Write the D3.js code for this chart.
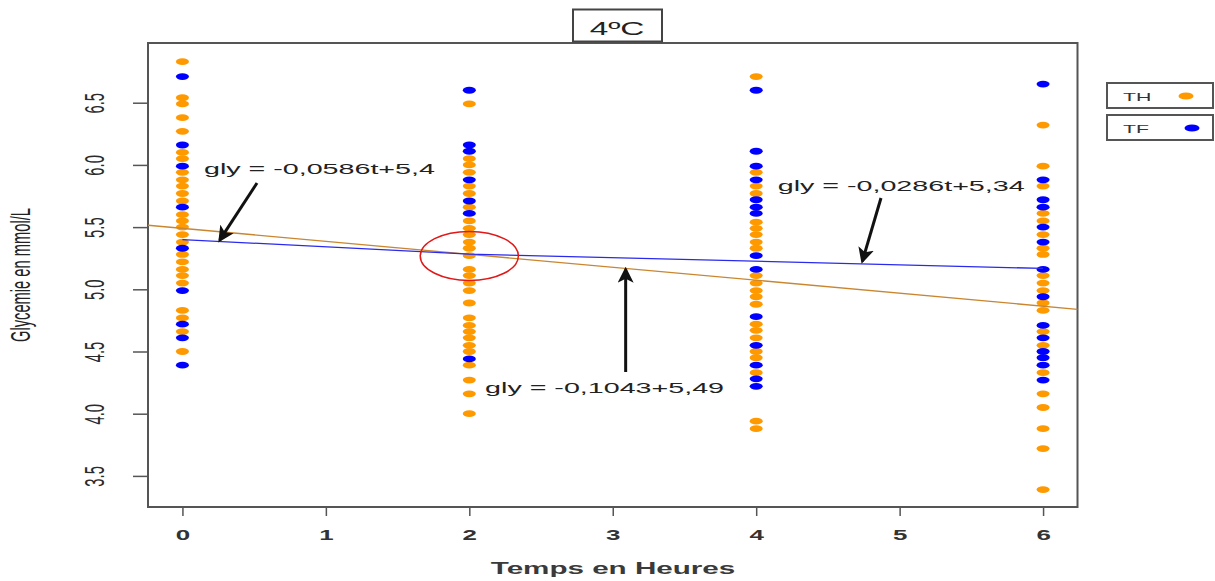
<!DOCTYPE html>
<html><head><meta charset="utf-8">
<script src="https://cdn.jsdelivr.net/npm/d3@7"></script>
<style>body{margin:0;background:#fff}svg{display:block}</style>
</head><body>
<svg id="c" width="1215" height="581"></svg>
<script>
// ---------- data ----------
const times = [0, 2, 4, 6];
const seriesNames = ["TH", "TF"];
// TH (orange) glycemia values per time point
const thT0 = [6.83,6.54,6.49,6.38,6.27,6.10,6.05,5.94,5.88,5.83,5.77,5.71,5.60,5.55,5.50,5.44,5.38,5.28,5.22,5.16,5.11,5.05,4.83,4.77,4.66,4.50];
const thT2 = [6.49,6.05,6.00,5.94,5.83,5.77,5.66,5.55,5.49,5.44,5.38,5.33,5.27,5.16,5.11,5.05,4.99,4.89,4.77,4.71,4.66,4.61,4.55,4.50,4.39,4.27,4.16,4.00];
const thT4 = [6.71,5.94,5.83,5.77,5.54,5.49,5.44,5.38,5.33,5.11,5.05,4.99,4.94,4.88,4.72,4.67,4.61,4.50,4.45,4.33,3.94,3.88];
const thT6 = [6.32,5.99,5.83,5.61,5.55,5.44,5.33,5.28,5.11,5.05,4.99,4.89,4.83,4.66,4.55,4.33,4.16,4.05,3.88,3.72,3.39];
// TF (blue)
const tfT0 = [6.71,6.16,5.99,5.66,5.33,4.99,4.72,4.61,4.39];
const tfT2 = [6.60,6.16,6.11,5.88,5.71,5.61,4.44];
const tfT4 = [6.60,6.11,5.99,5.88,5.72,5.66,5.61,5.27,5.16,4.78,4.55,4.39,4.28,4.22];
const tfT6 = [6.65,5.88,5.72,5.66,5.50,5.38,5.16,4.94,4.71,4.61,4.50,4.45,4.39,4.27];
// regression lines
const thFitIntercept = 5.49, thFitSlope = -0.1043;
const tfFitTimes = [0, 2, 6];
const tfFitValues = [5.4, 5.283, 5.168];
// axis ticks
const xTicks = [0,1,2,3,4,5,6];
const yTicks = [3.5,4.0,4.5,5.0,5.5,6.0,6.5];
// texts
const titleText = "4ºC";
const xLabel = "Temps en Heures";
const yLabel = "Glycemie en mmol/L";
const eqTexts = ["gly = -0,0586t+5,4", "gly = -0,0286t+5,34", "gly = -0,1043+5,49"];

// ---------- layout ----------
const SX = 1.85; // horizontal stretch of the original picture
const colTH = "#ff9900", colTF = "#0000ff";
const svg = d3.select("#c");
const x = d3.scaleLinear().domain([-0.24, 6.24]).range([148, 1077.5]);
const y = d3.scaleLinear().domain([3.25, 6.98]).range([507, 43]);

function stretchText(g, px, py, str, o) {
  return g.append("text")
    .attr("transform", `translate(${px},${py}) scale(${SX},1)`)
    .attr("text-anchor", o.anchor || "start")
    .attr("font-family", "Liberation Sans, Arial, sans-serif")
    .attr("font-size", o.size)
    .attr("font-weight", o.weight || "normal")
    .attr("fill", o.fill || "#222")
    .text(str);
}

// plot box
svg.append("rect").attr("x", 148).attr("y", 43).attr("width", 929.5).attr("height", 464)
  .attr("fill", "none").attr("stroke", "#555").attr("stroke-width", 2);

// y axis
const ya = svg.append("g").attr("transform", "translate(148,0)")
  .call(d3.axisLeft(y).tickValues(yTicks).tickSize(15).tickFormat(d3.format(".1f")));
ya.select(".domain").remove();
ya.selectAll(".tick line").attr("stroke", "#555").attr("stroke-width", 1.5);
ya.selectAll(".tick text")
  .attr("x", null).attr("dy", null)
  .attr("transform", `translate(-53,0) scale(${SX},1) rotate(-90)`)
  .attr("text-anchor", "middle").attr("dominant-baseline", "central")
  .attr("font-family", "Liberation Sans, Arial, sans-serif")
  .attr("font-size", 14.8).attr("fill", "#2a2a2a");

// x axis
const xa = svg.append("g").attr("transform", "translate(0,508)")
  .call(d3.axisBottom(x).tickValues(xTicks).tickSize(8).tickFormat(d3.format("d")));
xa.select(".domain").remove();
xa.selectAll(".tick line").attr("stroke", "#555").attr("stroke-width", 1.5);
xa.selectAll(".tick text")
  .attr("y", null).attr("dy", null)
  .attr("transform", `translate(0,31.5) scale(${SX},1)`)
  .attr("text-anchor", "middle")
  .attr("font-family", "Liberation Sans, Arial, sans-serif")
  .attr("font-size", 14).attr("font-weight", "bold").attr("fill", "#333");

// axis titles
stretchText(svg, 613, 574, xLabel, {anchor: "middle", size: 16, weight: "bold", fill: "#3a3a3a"});
svg.append("text")
  .attr("transform", `translate(21,275) scale(${SX},1) rotate(-90)`)
  .attr("text-anchor", "middle").attr("dominant-baseline", "central")
  .attr("font-family", "Liberation Sans, Arial, sans-serif")
  .attr("font-size", 14.7).attr("fill", "#222").text(yLabel);

// points
const thData = [thT0, thT2, thT4, thT6].flatMap((arr, i) => arr.map(v => ({t: times[i], v})));
const tfData = [tfT0, tfT2, tfT4, tfT6].flatMap((arr, i) => arr.map(v => ({t: times[i], v})));
svg.append("g").selectAll("ellipse").data(thData).join("ellipse")
  .attr("cx", d => x(d.t)).attr("cy", d => y(d.v)).attr("rx", 6.5).attr("ry", 3.4).attr("fill", colTH);
svg.append("g").selectAll("ellipse").data(tfData).join("ellipse")
  .attr("cx", d => x(d.t)).attr("cy", d => y(d.v)).attr("rx", 6.5).attr("ry", 3.4).attr("fill", colTF);

// regression lines
const xd = x.domain();
svg.append("line")
  .attr("x1", x(xd[0])).attr("y1", y(thFitIntercept + thFitSlope * xd[0]))
  .attr("x2", x(xd[1])).attr("y2", y(thFitIntercept + thFitSlope * xd[1]))
  .attr("stroke", "#c98630").attr("stroke-width", 1.3);
svg.append("path")
  .datum(tfFitTimes.map((t, i) => [t, tfFitValues[i]]))
  .attr("d", d3.line().x(d => x(d[0])).y(d => y(d[1])))
  .attr("fill", "none").attr("stroke", "#2a2aee").attr("stroke-width", 1.3);

// red ellipse highlighting the crossing
svg.append("ellipse")
  .attr("cx", x(2)).attr("cy", y(5.268))
  .attr("rx", x(2.342) - x(2)).attr("ry", y(5.268) - y(5.465))
  .attr("fill", "none").attr("stroke", "#e01818").attr("stroke-width", 1.5);

// arrows
svg.append("defs").append("marker")
  .attr("id", "ah").attr("viewBox", "0 -6 12 12").attr("refX", 10).attr("refY", 0)
  .attr("markerUnits", "userSpaceOnUse").attr("markerWidth", 16).attr("markerHeight", 16)
  .attr("orient", "auto")
  .append("path").attr("d", "M0,-6L12,0L0,6L3,0Z").attr("fill", "#111");
const arrows = [
  {from: [0.52, 5.855], to: [0.26, 5.395]},
  {from: [4.87, 5.734], to: [4.74, 5.225]},
  {from: [3.09, 4.335], to: [3.09, 5.160]}
];
svg.append("g").selectAll("line").data(arrows).join("line")
  .attr("x1", d => x(d.from[0])).attr("y1", d => y(d.from[1]))
  .attr("x2", d => x(d.to[0])).attr("y2", d => y(d.to[1]))
  .attr("stroke", "#111").attr("stroke-width", 3).attr("marker-end", "url(#ah)");

// equation labels
const eqPos = [[0.15, 5.93], [4.15, 5.79], [2.11, 4.165]];
eqTexts.forEach((s, i) => stretchText(svg, x(eqPos[i][0]), y(eqPos[i][1]), s, {size: 15.5, fill: "#222"}));

// title box
svg.append("rect").attr("x", 573).attr("y", 9.5).attr("width", 89).attr("height", 32)
  .attr("fill", "#fff").attr("stroke", "#444").attr("stroke-width", 2);
stretchText(svg, 617, 35, titleText, {anchor: "middle", size: 18, fill: "#222"});

// legend
const leg = svg.append("g");
const legRows = [{name: seriesNames[0], col: colTH, y: 83, dx: 1186},
                 {name: seriesNames[1], col: colTF, y: 115, dx: 1192}];
legRows.forEach(r => {
  leg.append("rect").attr("x", 1107).attr("y", r.y).attr("width", 106).attr("height", 25)
    .attr("fill", "#fff").attr("stroke", "#555").attr("stroke-width", 2);
  stretchText(leg, 1123, r.y + 17.5, r.name, {size: 11.5, fill: "#333"});
  leg.append("ellipse").attr("cx", r.dx).attr("cy", r.y + 13).attr("rx", 7.5).attr("ry", 3.6).attr("fill", r.col);
});
</script>
</body></html>
